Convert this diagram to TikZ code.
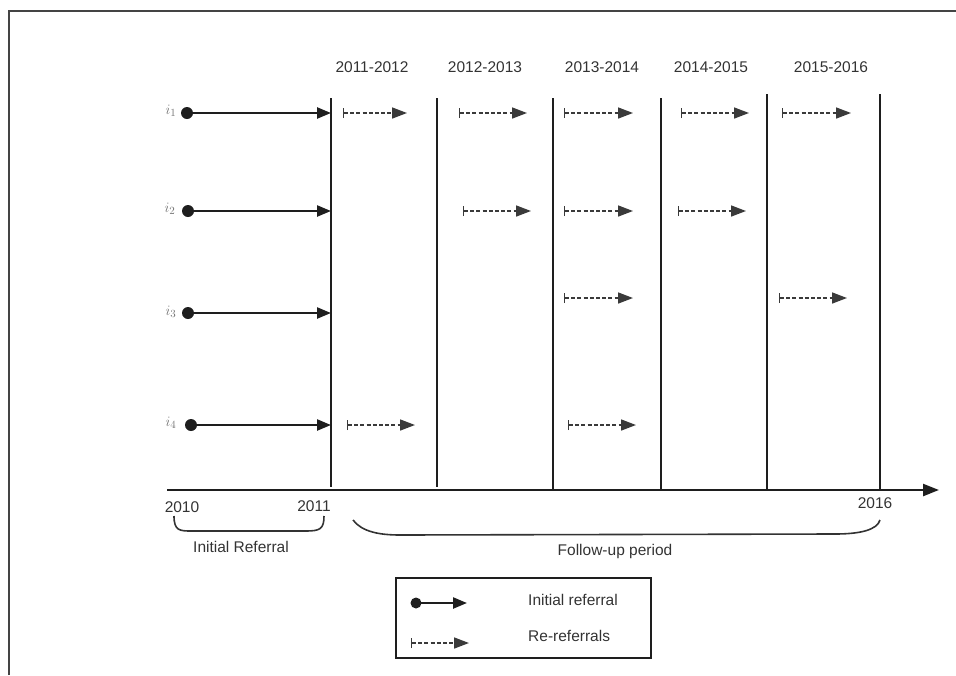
\documentclass[tikz,border=0pt]{standalone}
\usepackage{fontspec}
\setmainfont{Liberation Sans}
\usetikzlibrary{arrows.meta}
\definecolor{linec}{HTML}{1E1E1E}
\definecolor{dashc}{HTML}{3A3A3A}
\definecolor{txtc}{HTML}{333333}
\definecolor{framec}{HTML}{444444}
\tikzset{
  initarr/.style={draw=linec, line width=2.4pt, -{Triangle[length=14pt,width=11pt]}},
  rearr/.style={draw=dashc, line width=1.6pt, dash pattern=on 4pt off 2.2pt,
    {Bar[width=10pt,line width=1.4pt]}-{Triangle[length=15pt,width=11pt]}},
  vline/.style={draw=linec, line width=2.4pt},
  dotc/.style={circle, fill=linec, inner sep=0pt, minimum size=12pt},
  yr/.style={text=txtc, font=\fontsize{15.5}{17}\selectfont, inner sep=0pt},
  lbl/.style={text=txtc, font=\fontsize{15.5}{17}\selectfont, inner sep=0pt},
  ilbl/.style={text=black!55, font=\fontsize{15}{17}\selectfont, inner sep=0pt},
  brc/.style={draw=txtc, line width=1.6pt},
}
\begin{document}
\begin{tikzpicture}[x=1pt,y=-1pt]
\useasboundingbox (0,0) rectangle (956,675);
% frame
\draw[framec, line width=2pt] (9,675) -- (9,11) -- (956,11);

% year labels
\node[yr] (y1) at (372,67) {2011-2012};
\node[yr] (y2) at (485,67) {2012-2013};
\node[yr] (y3) at (602,67) {2013-2014};
\node[yr] (y4) at (711,67) {2014-2015};
\node[yr] (y5) at (831,67) {2015-2016};

% vertical lines
\coordinate (v1t) at (331,98); \coordinate (v1b) at (331,487);
\coordinate (v2t) at (437,98); \coordinate (v2b) at (437,487);
\coordinate (v3t) at (553,98); \coordinate (v3b) at (553,490);
\coordinate (v4t) at (661,98); \coordinate (v4b) at (661,490);
\coordinate (v5t) at (767,94); \coordinate (v5b) at (767,490);
\coordinate (v6t) at (880,94); \coordinate (v6b) at (880,490);
\foreach \v in {1,...,6} { \draw[vline] (v\v t) -- (v\v b); }

% axis
\coordinate (ax0) at (167,490);
\coordinate (ax1) at (939,490);
\draw[draw=linec, line width=2.4pt, -{Triangle[length=16pt,width=12pt]}] (ax0) -- (ax1);

% row labels and dots
\node[ilbl] (i1) at (171,111) {$i_1$};
\node[ilbl] (i2) at (170,209) {$i_2$};
\node[ilbl] (i3) at (171,312) {$i_3$};
\node[ilbl] (i4) at (171,423) {$i_4$};
\node[dotc] (d1) at (187,113) {};
\node[dotc] (d2) at (188,211) {};
\node[dotc] (d3) at (188,313) {};
\node[dotc] (d4) at (191,425) {};
\coordinate (e1) at (331,113);
\coordinate (e2) at (331,211);
\coordinate (e3) at (331,313);
\coordinate (e4) at (331,425);
\draw[initarr] (d1.center) -- (e1);
\draw[initarr] (d2.center) -- (e2);
\draw[initarr] (d3.center) -- (e3);
\draw[initarr] (d4.center) -- (e4);

% re-referrals
\coordinate (r11s) at (343,113); \coordinate (r11e) at (407,113);
\coordinate (r12s) at (459,113); \coordinate (r12e) at (527,113);
\coordinate (r13s) at (564,113); \coordinate (r13e) at (633,113);
\coordinate (r14s) at (681,113); \coordinate (r14e) at (749,113);
\coordinate (r15s) at (782,113); \coordinate (r15e) at (851,113);
\coordinate (r22s) at (463,211); \coordinate (r22e) at (531,211);
\coordinate (r23s) at (564,211); \coordinate (r23e) at (633,211);
\coordinate (r24s) at (678,211); \coordinate (r24e) at (746,211);
\coordinate (r33s) at (564,298); \coordinate (r33e) at (633,298);
\coordinate (r35s) at (779,298); \coordinate (r35e) at (847,298);
\coordinate (r41s) at (347,425); \coordinate (r41e) at (415,425);
\coordinate (r43s) at (568,425); \coordinate (r43e) at (636,425);
\foreach \a in {11,12,13,14,15,22,23,24,33,35,41,43} { \draw[rearr] (r\a s) -- (r\a e); }

% axis years
\node[lbl] (t2010) at (182,507) {2010};
\node[lbl] (t2011) at (314,506) {2011};
\node[lbl] (t2016) at (875,503) {2016};

% braces
\coordinate (b1a) at (174,516); \coordinate (b1b) at (324,516);
\draw[brc] (b1a) .. controls (174,531) and (180,531) .. (192,531) -- (306,531)
  .. controls (320,531) and (324,529) .. (b1b);
\node[lbl] (initref) at (241,547) {Initial Referral};
\coordinate (b2a) at (353,520); \coordinate (b2b) at (880,520);
\draw[brc] (b2a) .. controls (362,532) and (380,535) .. (400,535) -- (835,534)
  .. controls (860,534) and (877,530) .. (b2b);
\node[lbl] (fup) at (615,551) {Follow-up period};

% legend
\node[draw=linec, line width=1.8pt, minimum width=255pt, minimum height=80pt, inner sep=0pt] (leg) at (523.5,618) {};
\node[dotc, minimum size=11pt] (ld) at (416,603) {};
\coordinate (le) at (467,603);
\draw[initarr] (ld.center) -- (le);
\coordinate (lrs) at (411,643); \coordinate (lre) at (469,643);
\draw[rearr] (lrs) -- (lre);
\node[lbl, anchor=west] (lt1) at (528,600) {Initial referral};
\node[lbl, anchor=west] (lt2) at (528,636) {Re-referrals};
\end{tikzpicture}
\end{document}
